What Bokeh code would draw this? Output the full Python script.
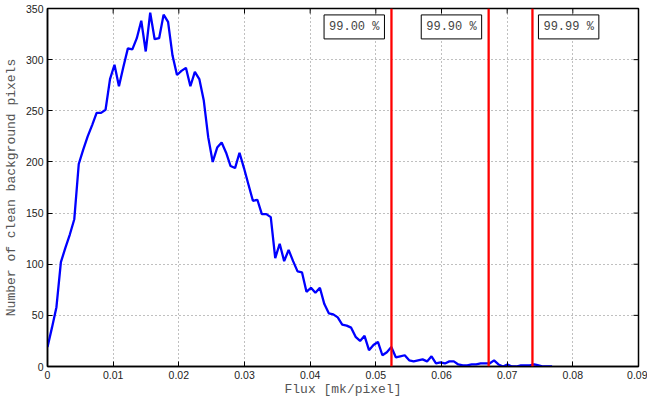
import math
from bokeh.plotting import figure
from bokeh.models import FixedTicker, CustomJSTickFormatter, Span, Label, Range1d
from bokeh.embed import file_html
from bokeh.resources import INLINE

# Histogram of clean background pixel flux
BIN_WIDTH = 0.00068
counts = [19, 38, 58, 102, 116, 129, 144, 198, 212, 225,
          236, 248, 248, 251, 281, 295, 274, 293, 311, 310,
          321, 338, 308, 346, 320, 321, 344, 337, 304, 285,
          289, 292, 274, 288, 281, 260, 224, 200, 214, 219,
          209, 196, 194, 209, 194, 178, 162, 163, 149, 149,
          146, 106, 120, 103, 114, 103, 93, 92, 73, 77,
          72, 77, 61, 52, 51, 48, 41, 40, 38, 29,
          25, 30, 16, 21, 24, 11, 14, 19, 9, 10,
          11, 6, 5, 6, 7, 5, 10, 3, 4, 3,
          5, 5, 2, 1, 1, 2, 2, 3, 3, 3,
          6, 2, 0, 2, 0, 0, 1, 1, 1, 2,
          1, 0, 0, 0]
flux = [i * BIN_WIDTH for i in range(len(counts))]

# Percentile thresholds
thresholds = [0.05238, 0.06718, 0.07385]
threshold_labels = ["99.00 %", "99.90 %", "99.99 %"]
label_sides = ["left", "left", "right"]

x_ticks = [0, 0.01, 0.02, 0.03, 0.04, 0.05, 0.06, 0.07, 0.08, 0.09]
y_ticks = [0, 50, 100, 150, 200, 250, 300, 350]
x_min, x_max = 0, 0.09
y_min, y_max = 0, 350

p = figure(width=647, height=401, output_backend="svg", toolbar_location=None,
           x_range=Range1d(x_min, x_max), y_range=Range1d(y_min, y_max),
           x_axis_label="Flux [mk/pixel]",
           y_axis_label="Number of clean background pixels",
           min_border_left=44, min_border_right=9,
           min_border_top=8, min_border_bottom=35)
p.background_fill_color = "white"
p.border_fill_color = "white"
p.outline_line_color = "black"
p.outline_line_width = 1.5

mono = "Liberation Mono"
sans = "Liberation Sans"

xt = FixedTicker(ticks=x_ticks)
yt = FixedTicker(ticks=y_ticks)

p.xaxis.ticker = xt
p.xaxis.formatter = CustomJSTickFormatter(code="return tick == 0 ? '0' : tick.toFixed(2);")
p.yaxis.ticker = yt

for ax in list(p.xaxis) + list(p.yaxis):
    ax.major_tick_in = 5
    ax.major_tick_out = 0
    ax.minor_tick_in = 0
    ax.minor_tick_out = 0
    ax.axis_line_color = "black"
    ax.axis_line_width = 1.5
    ax.major_tick_line_color = "black"
    ax.major_tick_line_width = 1
    ax.major_label_text_font = sans
    ax.major_label_text_font_size = "10.5px"
    ax.major_label_text_color = "#222222"
    ax.axis_label_text_font = mono
    ax.axis_label_text_font_size = "13px"
    ax.axis_label_text_font_style = "normal"
    ax.axis_label_text_color = "#555555"

p.xaxis.major_label_standoff = 4
p.xaxis.axis_label_standoff = 0
p.yaxis.major_label_standoff = 4
p.yaxis.axis_label_standoff = 4

for g in (p.xgrid, p.ygrid):
    g.grid_line_color = "#808080"
    g.grid_line_dash = "1 3"
    g.grid_line_width = 1
p.xgrid.ticker = xt
p.ygrid.ticker = yt

# Inward tick marks along the top and right frame edges (half of each dash is clipped)
p.scatter(x_ticks, [y_max] * len(x_ticks), marker="dash", size=10,
          angle=math.pi / 2, line_color="black", line_width=1)
p.scatter([x_max] * len(y_ticks), y_ticks, marker="dash", size=10,
          line_color="black", line_width=1)

p.line(flux, counts, line_color="#0000ff", line_width=2.3)

for loc, txt, side in zip(thresholds, threshold_labels, label_sides):
    p.add_layout(Span(location=loc, dimension="height", line_color="#ff0000", line_width=2.3))
    p.add_layout(Label(x=loc, y=332, text=txt,
                       x_offset=-7 if side == "left" else 6,
                       text_align="right" if side == "left" else "left",
                       text_baseline="middle",
                       text_font=mono, text_font_size="12px", text_color="#444444",
                       border_line_color="black", border_line_width=1,
                       background_fill_color="white", padding=5))

open("out.html", "w").write(file_html(p, INLINE))
